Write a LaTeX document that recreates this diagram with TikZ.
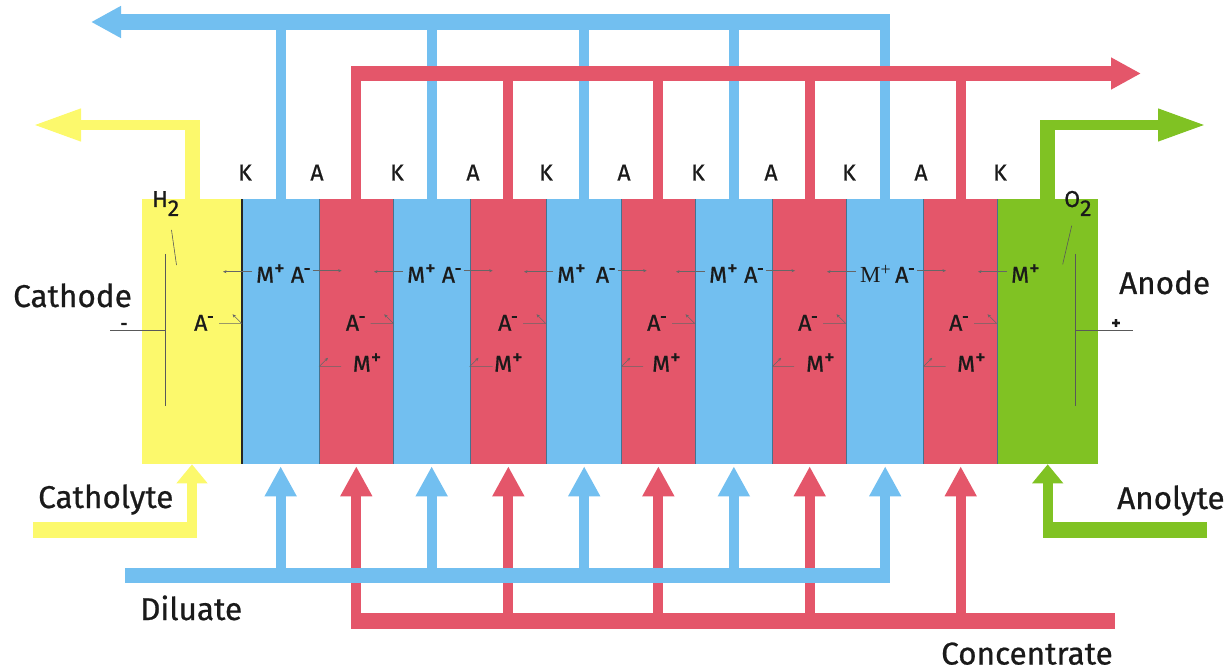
\documentclass[tikz,border=0pt]{standalone}
\usepackage{fontspec}
\setmainfont[FakeBold=0.7]{Fira Sans}
\newfontfamily\ionserif{Liberation Serif}
\usetikzlibrary{arrows.meta}
\definecolor{cathodeyellow}{HTML}{FCF96C}
\definecolor{anodegreen}{HTML}{80C223}
\definecolor{diluateblue}{HTML}{72BFF0}
\definecolor{concred}{HTML}{E4566A}
\definecolor{inkblack}{HTML}{1A1A1A}
\newcommand{\ionM}{M\raisebox{7.5pt}{\fontsize{21}{21}\selectfont +}}
\newcommand{\ionA}{A\raisebox{9pt}{\fontsize{15}{15}\selectfont\bfseries -}}
\newcommand{\ionMs}{{\ionserif M\raisebox{7pt}{\fontsize{18}{18}\selectfont +}}}
\tikzset{
  cellbox/.style={anchor=north west,inner sep=0,outer sep=0,minimum height=265},
  biglabel/.style={anchor=base west,inner sep=0,text=inkblack,font=\fontsize{31.5}{31.5}\selectfont},
  memlabel/.style={anchor=base,inner sep=0,text=inkblack,font=\fontsize{23}{23}\selectfont},
  ionlabel/.style={anchor=base west,inner sep=0,text=inkblack,font=\fontsize{23}{23}\selectfont},
  membrane/.style={draw=black!40!diluateblue,line width=0.7},
  wire/.style={draw=black!65,line width=0.6},
  iontip/.style={draw=black!60,line width=0.5,-{Stealth[length=3.5,width=3]}},
  headtip/.style={-{Triangle[length=30,width=30]}},
  gastip/.style={-{Triangle[length=48,width=30]}},
  feedtip/.style={-{Triangle[length=19,width=30]}},
}
\begin{document}
\begin{tikzpicture}[x=1pt,y=-1pt]
  \useasboundingbox (0,0) rectangle (1232,671);
  \draw
    (142,199.3) node[cellbox,fill=cathodeyellow,minimum width=100] (cat){}
    (242,199.3) node[cellbox,fill=diluateblue,minimum width=77.3] (d1){}
    (319.3,199.3) node[cellbox,fill=concred,minimum width=74] (c1){}
    (393.3,199.3) node[cellbox,fill=diluateblue,minimum width=76.7] (d2){}
    (470,199.3) node[cellbox,fill=concred,minimum width=76.7] (c2){}
    (546.7,199.3) node[cellbox,fill=diluateblue,minimum width=75] (d3){}
    (621.7,199.3) node[cellbox,fill=concred,minimum width=73.3] (c3){}
    (695,199.3) node[cellbox,fill=diluateblue,minimum width=77.7] (d4){}
    (772.7,199.3) node[cellbox,fill=concred,minimum width=74] (c4){}
    (846.7,199.3) node[cellbox,fill=diluateblue,minimum width=77] (d5){}
    (923.7,199.3) node[cellbox,fill=concred,minimum width=74] (c5){}
    (997.7,199.3) node[cellbox,fill=anodegreen,minimum width=100] (an){};
  \draw[line width=1.2,black!85] (d1.north west) -- (d1.south west);
  \begin{scope}[membrane]
    \draw (c1.north west) -- (c1.south west);
    \draw (d2.north west) -- (d2.south west);
    \draw (c2.north west) -- (c2.south west);
    \draw (d3.north west) -- (d3.south west);
    \draw (c3.north west) -- (c3.south west);
    \draw (d4.north west) -- (d4.south west);
    \draw (c4.north west) -- (c4.south west);
    \draw (d5.north west) -- (d5.south west);
    \draw (c5.north west) -- (c5.south west);
    \draw (an.north west) -- (an.south west);
  \end{scope}
  \coordinate (dtopend) at (890,22);
  \coordinate (dtoptip) at (91,22);
  \coordinate (ctopstart) at (351,73.5);
  \coordinate (ctoptip) at (1141,73.5);
  \coordinate (dbotstart) at (125,575.5);
  \coordinate (dbotend) at (890,575.5);
  \coordinate (cbotstart) at (351,621);
  \coordinate (cbotend) at (1115,621);
  \begin{scope}[draw=diluateblue,line width=10]
    \draw (d1.north) -- (d1.north |- dtopend);
    \draw (d2.north) -- (d2.north |- dtopend);
    \draw (d3.north) -- (d3.north |- dtopend);
    \draw (d4.north) -- (d4.north |- dtopend);
    \draw (d5.north) -- (d5.north |- dtopend);
    \draw[line width=15.5,headtip] (dtopend) -- (dtoptip);
  \end{scope}
  \begin{scope}[draw=concred,line width=10]
    \draw (c1.north) -- (c1.north |- ctopstart);
    \draw (c2.north) -- (c2.north |- ctopstart);
    \draw (c3.north) -- (c3.north |- ctopstart);
    \draw (c4.north) -- (c4.north |- ctopstart);
    \draw (c5.north) -- (c5.north |- ctopstart);
    \draw[line width=15.5,headtip] (ctopstart) -- (ctoptip);
  \end{scope}
  \begin{scope}[draw=concred,line width=10,headtip,shorten >=2]
    \draw (c1.south |- cbotstart) -- (c1.south);
    \draw (c2.south |- cbotstart) -- (c2.south);
    \draw (c3.south |- cbotstart) -- (c3.south);
    \draw (c4.south |- cbotstart) -- (c4.south);
    \draw (c5.south |- cbotstart) -- (c5.south);
  \end{scope}
  \draw[concred,line width=16] (cbotstart) -- (cbotend);
  \begin{scope}[draw=diluateblue,line width=10,headtip,shorten >=2]
    \draw (d1.south |- dbotstart) -- (d1.south);
    \draw (d2.south |- dbotstart) -- (d2.south);
    \draw (d3.south |- dbotstart) -- (d3.south);
    \draw (d4.south |- dbotstart) -- (d4.south);
    \draw (d5.south |- dbotstart) -- (d5.south);
  \end{scope}
  \draw[diluateblue,line width=15.5] (dbotstart) -- (dbotend);
  \coordinate (h2bend) at (192.5,125);
  \coordinate (h2tip) at (33,125);
  \coordinate (o2bend) at (1047.7,125);
  \coordinate (o2tip) at (1206,125);
  \coordinate (catfeed) at (33,530);
  \coordinate (anfeed) at (1207,530);
  \draw[cathodeyellow,line width=15] (cat.north -| h2bend) -- ([yshift=5]h2bend);
  \draw[cathodeyellow,line width=10,gastip] ([xshift=7.5]h2bend) -- (h2tip);
  \draw[cathodeyellow,line width=16] (catfeed) -- (catfeed -| cat.south) -- ++(5,0);
  \draw[cathodeyellow,line width=10,feedtip] ([yshift=8]catfeed -| cat.south) -- (cat.south);
  \draw[anodegreen,line width=15] (an.north) -- ([yshift=5]o2bend);
  \draw[anodegreen,line width=10,gastip] ([xshift=-7.5]o2bend) -- (o2tip);
  \draw[anodegreen,line width=16] (anfeed) -- (anfeed -| an.south) -- ++(-5,0);
  \draw[anodegreen,line width=10,feedtip] ([yshift=8]anfeed -| an.south) -- (an.south);
  \draw
    (13,307) node[biglabel] (cathode){Cathode}
    (1119,294) node[biglabel] (anode){Anode}
    (38,508) node[biglabel] (catholyte){Catholyte}
    (1117,509) node[biglabel] (anolyte){Anolyte}
    (140,620) node[biglabel] (diluate){Diluate}
    (941,664.5) node[biglabel] (concentrate){Concentrate};
  \draw
    (245,180.5) node[memlabel] (k1){K}
    (317,180.5) node[memlabel] (a1){A}
    (397,180.5) node[memlabel] (k2){K}
    (473,180.5) node[memlabel] (a2){A}
    (546,180.5) node[memlabel] (k3){K}
    (624,180.5) node[memlabel] (a3){A}
    (698,180.5) node[memlabel] (k4){K}
    (771,180.5) node[memlabel] (a4){A}
    (849,180.5) node[memlabel] (k5){K}
    (921,180.5) node[memlabel] (a5){A}
    (1000,180.5) node[memlabel] (k6){K};
  \draw
    (152,207) node[ionlabel] (h2){H\raisebox{-9pt}{2}}
    (1064,207) node[ionlabel] (o2){O\raisebox{-9pt}{2}}
    (124,326) node[inner sep=0,text=inkblack,font=\fontsize{16}{16}\selectfont\bfseries] (minus){-}
    (1116,324) node[inner sep=0,text=inkblack,font=\fontsize{18}{18}\selectfont\bfseries] (plus){+};
  \coordinate (cattop) at (165.5,254);
  \coordinate (catbot) at (165.5,405.7);
  \coordinate (catmid) at (165.5,330);
  \coordinate (catlead) at (110,330);
  \coordinate (antop) at (1075.3,254);
  \coordinate (anbot) at (1075.3,405.7);
  \coordinate (anmid) at (1075.3,330);
  \coordinate (anlead) at (1132.7,330);
  \coordinate (h2a) at (171.5,230);
  \coordinate (h2b) at (176.5,265);
  \coordinate (o2a) at (1071.7,225.7);
  \coordinate (o2b) at (1062.7,264.3);
  \begin{scope}[wire]
    \draw (cattop) -- (catbot);
    \draw (catlead) -- (catmid);
    \draw (antop) -- (anbot);
    \draw (anmid) -- (anlead);
    \draw (h2a) -- (h2b);
    \draw (o2a) -- (o2b);
  \end{scope}
  \draw
    (256,282.7) node[ionlabel] (mt1){\ionM}
    (407,282.7) node[ionlabel] (mt2){\ionM}
    (557,282.7) node[ionlabel] (mt3){\ionM}
    (709,282.7) node[ionlabel] (mt4){\ionM}
    (860,282.7) node[ionlabel] (mt5){\ionMs}
    (1011,282.7) node[ionlabel] (mt6){\ionM}
    (290.7,282.7) node[ionlabel] (at1){\ionA}
    (441.7,282.7) node[ionlabel] (at2){\ionA}
    (595.7,282.7) node[ionlabel] (at3){\ionA}
    (744,282.7) node[ionlabel] (at4){\ionA}
    (895,282.7) node[ionlabel] (at5){\ionA}
    (194,330.7) node[ionlabel] (am0){\ionA}
    (345.7,330.7) node[ionlabel] (am1){\ionA}
    (498,330.7) node[ionlabel] (am2){\ionA}
    (647,330.7) node[ionlabel] (am3){\ionA}
    (798,330.7) node[ionlabel] (am4){\ionA}
    (949,330.7) node[ionlabel] (am5){\ionA}
    (352.7,371.7) node[ionlabel] (mb1){\ionM}
    (494,371.7) node[ionlabel] (mb2){\ionM}
    (652,371.7) node[ionlabel] (mb3){\ionM}
    (806,371.7) node[ionlabel] (mb4){\ionM}
    (957,371.7) node[ionlabel] (mb5){\ionM};
  \begin{scope}[iontip]
    \draw ([xshift=-4,yshift=11]mt1.base west) -- +(-29,0);
    \draw ([xshift=-4,yshift=11]mt2.base west) -- +(-29,0);
    \draw ([xshift=-4,yshift=11]mt3.base west) -- +(-29,0);
    \draw ([xshift=-4,yshift=11]mt4.base west) -- +(-29,0);
    \draw ([xshift=-4,yshift=11]mt5.base west) -- +(-29,0);
    \draw ([xshift=-4,yshift=11]mt6.base west) -- +(-29,0);
    \draw ([xshift=22,yshift=12]at1.base west) -- +(29,0);
    \draw ([xshift=22,yshift=12]at2.base west) -- +(29,0);
    \draw ([xshift=22,yshift=12]at3.base west) -- +(29,0);
    \draw ([xshift=22,yshift=12]at4.base west) -- +(29,0);
    \draw ([xshift=22,yshift=12]at5.base west) -- +(29,0);
    \draw ([xshift=25,yshift=7.4]am0.base west) -- ++(22.5,0) -- ++(-9,-9);
    \draw ([xshift=25,yshift=7.4]am1.base west) -- ++(22.5,0) -- ++(-9,-9);
    \draw ([xshift=25,yshift=7.4]am2.base west) -- ++(22.5,0) -- ++(-9,-9);
    \draw ([xshift=25,yshift=7.4]am3.base west) -- ++(22.5,0) -- ++(-9,-9);
    \draw ([xshift=25,yshift=7.4]am4.base west) -- ++(22.5,0) -- ++(-9,-9);
    \draw ([xshift=25,yshift=7.4]am5.base west) -- ++(22.5,0) -- ++(-9,-9);
    \draw ([xshift=-11.7,yshift=5.4]mb1.base west) -- ++(-21.5,0) -- ++(8.5,-8.5);
    \draw ([xshift=-1.3,yshift=5.4]mb2.base west) -- ++(-22.7,0) -- ++(8.5,-8.5);
    \draw ([xshift=-9,yshift=5.4]mb3.base west) -- ++(-21.3,0) -- ++(8.5,-8.5);
    \draw ([xshift=-12,yshift=5.4]mb4.base west) -- ++(-21.3,0) -- ++(8.5,-8.5);
    \draw ([xshift=-11.3,yshift=5.4]mb5.base west) -- ++(-22,0) -- ++(8.5,-8.5);
  \end{scope}
\end{tikzpicture}
\end{document}
